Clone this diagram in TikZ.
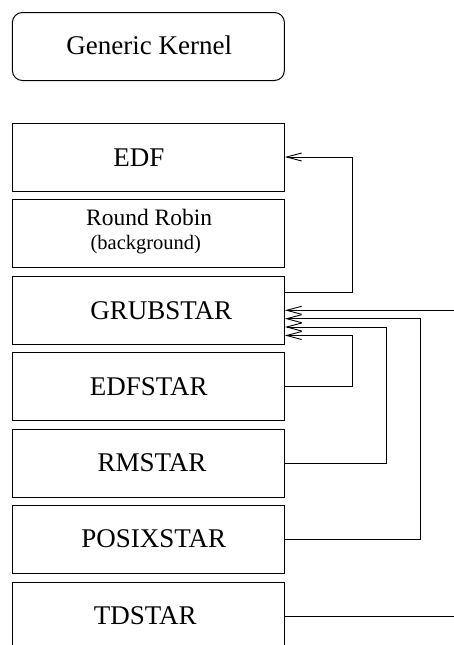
\documentclass[tikz,border=0pt]{standalone}
\usepackage{fontspec}
\setmainfont{Liberation Serif}
\usetikzlibrary{arrows.meta,calc}
\begin{document}
\begin{tikzpicture}[x=1pt,y=-1pt,
  box/.style={draw, line width=1pt, minimum width=272pt, minimum height=68pt, inner sep=0pt},
  lab/.style={anchor=base, inner sep=0pt, font=\fontsize{27}{30}\selectfont},
  wire/.style={line width=1pt},
  feed/.style={wire, -{Straight Barb[length=15pt,width=8pt,line width=0.9pt]}}]
\useasboundingbox (0,0) rectangle (454,645);
\clip (0,0) rectangle (454,645);

% scheduler boxes
\node[box, rounded corners=10pt] (kernel) at (148.4,46.5) {};
\node[box] (edf)     at (148.4,157) {};
\node[box] (rr)      at (148.4,233.5) {};
\node[box] (grub)    at (148.4,310) {};
\node[box] (edfstar) at (148.4,386.5) {};
\node[box] (rm)      at (148.4,463) {};
\node[box] (posix)   at (148.4,539.5) {};
\node[box] (td)      at (148.4,616) {};

% box texts
\node[lab] (tkernel) at (149.2,54.3) {Generic Kernel};
\node[lab] (tedf)    at (139,166.7) {EDF};
\node[lab, font=\fontsize{23.5}{26}\selectfont] (trr) at (149.2,225) {Round Robin};
\node[lab, font=\fontsize{20.5}{23}\selectfont] (tbg) at (145.8,249.5) {(background)};
\node[lab] (tgrub)    at (161.3,319) {GRUBSTAR};
\node[lab] (tedfstar) at (148.8,395) {EDFSTAR};
\node[lab] (trm)      at (152,471.7) {RMSTAR};
\node[lab] (tposix)   at (153.8,547.7) {POSIXSTAR};
\node[lab] (ttd)      at (145.3,624.3) {TDSTAR};

% off-page ends
\coordinate (extin)  at (454,310.3);
\coordinate (extout) at (454,616);

% connectors
\draw[feed] ($(grub.east)+(0,-17.5)$) -| ($(edf.east)+(68,0)$) -- (edf.east);
\draw[feed] (extin) -- (grub.east |- extin);
\draw[feed] (posix.east) -| ($(grub.east)+(136,8.7)$) -- ($(grub.east)+(0,8.7)$);
\draw[feed] (rm.east) -| ($(grub.east)+(102,17)$) -- ($(grub.east)+(0,17)$);
\draw[feed] (edfstar.east) -| ($(grub.east)+(68,25.5)$) -- ($(grub.east)+(0,25.5)$);
\draw[wire] (td.east) -- (extout);
\end{tikzpicture}
\end{document}
